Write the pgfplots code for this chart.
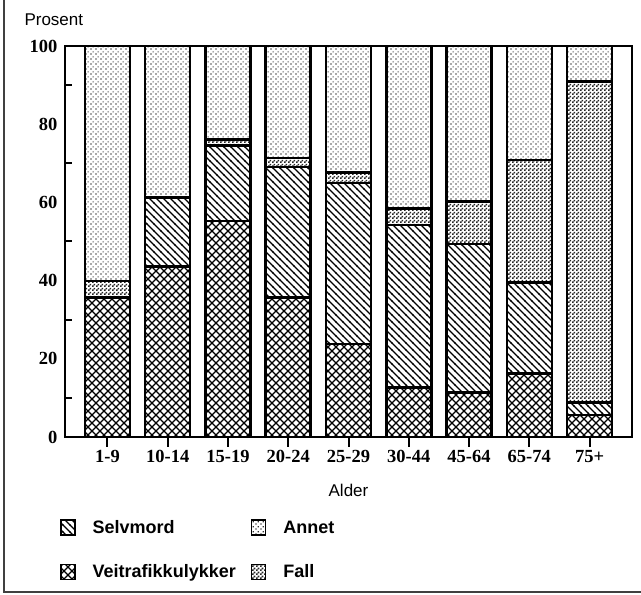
\documentclass[border=0pt]{standalone}
\usepackage{fontspec}
\setmainfont{Liberation Serif}
\setsansfont{Liberation Sans}
\usepackage{pgfplots}
\pgfplotsset{compat=1.18}
\usetikzlibrary{patterns}

% hatch patterns, tile sizes in pt (1pt ~ 1px of the reference)
\pgfdeclarepatternformonly{selvmord}{\pgfqpoint{-1pt}{-1pt}}{\pgfqpoint{8pt}{8pt}}{\pgfqpoint{7pt}{7pt}}{%
  \pgfsetlinewidth{1.1pt}%
  \pgfpathmoveto{\pgfqpoint{-0.5pt}{7.5pt}}\pgfpathlineto{\pgfqpoint{7.5pt}{-0.5pt}}%
  \pgfusepath{stroke}}
\pgfdeclarepatternformonly{veitrafikk}{\pgfqpoint{-1pt}{-1pt}}{\pgfqpoint{9pt}{9pt}}{\pgfqpoint{8pt}{8pt}}{%
  \pgfsetlinewidth{1.2pt}%
  \pgfpathmoveto{\pgfqpoint{-0.5pt}{8.5pt}}\pgfpathlineto{\pgfqpoint{8.5pt}{-0.5pt}}%
  \pgfpathmoveto{\pgfqpoint{-0.5pt}{-0.5pt}}\pgfpathlineto{\pgfqpoint{8.5pt}{8.5pt}}%
  \pgfusepath{stroke}}
\pgfdeclarepatternformonly{annet}{\pgfqpoint{0pt}{0pt}}{\pgfqpoint{5pt}{5pt}}{\pgfqpoint{5pt}{5pt}}{%
  \pgfpathrectangle{\pgfqpoint{0.5pt}{0.5pt}}{\pgfqpoint{1.3pt}{1.3pt}}%
  \pgfpathrectangle{\pgfqpoint{3pt}{3pt}}{\pgfqpoint{1.3pt}{1.3pt}}%
  \pgfusepath{fill}}
\pgfdeclarepatternformonly{fall}{\pgfqpoint{0pt}{0pt}}{\pgfqpoint{4pt}{4pt}}{\pgfqpoint{4pt}{4pt}}{%
  \pgfpathrectangle{\pgfqpoint{0pt}{0pt}}{\pgfqpoint{2pt}{2pt}}%
  \pgfpathrectangle{\pgfqpoint{2pt}{2pt}}{\pgfqpoint{2pt}{2pt}}%
  \pgfusepath{fill}}

\pgfplotsset{
  sSelv/.style={draw=black, line width=2.5pt, pattern=selvmord},
  sVei/.style={draw=black, line width=2.5pt, pattern=veitrafikk},
  sAnnet/.style={draw=black, line width=2.5pt, pattern=annet, pattern color=black!80},
  sFall/.style={draw=black, line width=2.5pt, pattern=fall, pattern color=black!85},
}

\newcommand\ticksfont{\bfseries\fontsize{18.5}{20}\selectfont}

\begin{document}
\begin{tikzpicture}[x=1pt,y=1pt]
\useasboundingbox (0,0) rectangle (641,595);
\draw[line width=1.5pt, black!75] (4,595) -- (4,3) -- (641,3);
\begin{axis}[
  at={(65pt,158pt)}, anchor=south west,
  scale only axis, width=567pt, height=391pt,
  ybar stacked, bar width=45pt,
  xmin=-0.705, xmax=8.705, ymin=0, ymax=100,
  axis line style={line width=2pt},
  xtick={0,...,8},
  xticklabels={1-9,10-14,15-19,20-24,25-29,30-44,45-64,65-74,75+},
  ytick={0,20,...,100},
  minor ytick={10,30,...,90},
  xtick pos=left, ytick pos=left,
  tick align=inside,
  major tick length=10pt, minor tick length=7pt,
  major x tick style={line width=2pt, black, yshift=-10pt},
  major y tick style={draw=none},
  minor y tick style={line width=2pt, black},
  /pgf/number format/assume math mode=true,
  yticklabel style={font=\ticksfont, xshift=-4pt},
  xticklabel style={font=\ticksfont, yshift=-10pt},
  ylabel={Prosent},
  ylabel style={rotate=-90, at={(axis description cs:-0.0776,1.0512)}, anchor=base west,
    font=\sffamily\fontsize{17}{20}\selectfont},
  xlabel={Alder},
  xlabel style={at={(axis description cs:0.5,-0.151)}, anchor=base,
    font=\sffamily\fontsize{17}{20}\selectfont},
  legend columns=2,
  legend cell align=left,
  legend image code/.code={\draw[#1, line width=1.5pt] (0pt,-7.5pt) rectangle (14pt,7.5pt);},
  legend style={at={(axis description cs:-0.0088,-0.2103)}, anchor=north west,
    draw=none, fill=none, inner sep=0pt, nodes={inner sep=0pt},
    font=\sffamily\bfseries\fontsize{18}{21}\selectfont,
    row sep=28pt,
    /tikz/every even column/.append style={column sep=15pt},
    /tikz/every odd column/.append style={column sep=17pt}},
]
\addplot[sVei, forget plot] coordinates {(0,35.7) (1,43.6) (2,55.3) (3,35.7) (4,23.8) (5,12.6) (6,11.4) (7,16.3) (8,5.6)};
\addplot[sSelv, forget plot] coordinates {(0,0) (1,17.7) (2,19.2) (3,33.4) (4,41.1) (5,41.6) (6,37.9) (7,23.2) (8,3.2)};
\addplot[sFall, forget plot] coordinates {(0,4.2) (1,0) (2,1.6) (3,2.2) (4,2.7) (5,4.3) (6,10.9) (7,31.3) (8,82.1)};
\addplot[sAnnet, forget plot] coordinates {(0,60.1) (1,38.7) (2,23.9) (3,28.7) (4,32.4) (5,41.5) (6,39.8) (7,29.2) (8,9.1)};
\addlegendimage{sSelv}
\addlegendentry{Selvmord}
\addlegendimage{sAnnet}
\addlegendentry{Annet}
\addlegendimage{sVei}
\addlegendentry{Veitrafikkulykker}
\addlegendimage{sFall}
\addlegendentry{Fall}
\end{axis}
\end{tikzpicture}
\end{document}
